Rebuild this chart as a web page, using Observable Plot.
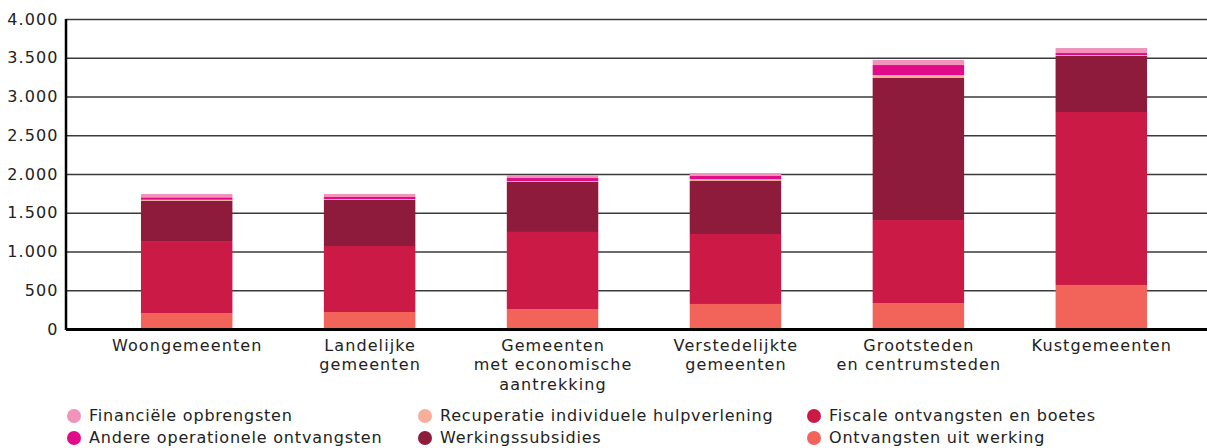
<!DOCTYPE html>
<html>
<head>
<meta charset="utf-8">
<script src="https://cdn.jsdelivr.net/npm/d3@7"></script>
<script src="https://cdn.jsdelivr.net/npm/@observablehq/plot@0.6"></script>
<style>
  html, body { margin: 0; padding: 0; background: #fff; }
  body { width: 1207px; height: 448px; position: relative; overflow: hidden; font-family: "DejaVu Sans", sans-serif; color: #222; }
  #chart { position: absolute; left: 0; top: 0; }
  .legend { position: absolute; left: 0; top: 0; width: 1207px; }
  .item { position: absolute; display: flex; align-items: center; font-size: 16px; letter-spacing: 0.8px; white-space: nowrap; }
  .sw { width: 14px; height: 14px; border-radius: 50%; margin-right: 8px; flex: none; }
</style>
</head>
<body>
<div id="chart"></div>
<div class="legend" id="legend"></div>
<script>
const categories = [
  "Woongemeenten",
  "Landelijke\ngemeenten",
  "Gemeenten\nmet economische\naantrekking",
  "Verstedelijkte\ngemeenten",
  "Grootsteden\nen centrumsteden",
  "Kustgemeenten"
];
// stacked bottom -> top
const ontvangstenUitWerking   = [206, 219, 258, 323, 335, 568];
const fiscaleOntvangsten      = [929, 852, 994, 903, 1071, 2232];
const werkingssubsidies       = [520, 594, 645, 684, 1833, 723];
const recuperatie             = [13, 12, 13, 25, 38, 12];
const andereOperationele      = [31, 26, 38, 39, 129, 26];
const financieleOpbrengsten   = [43, 39, 39, 39, 65, 65];
const yTicks = [0, 500, 1000, 1500, 2000, 2500, 3000, 3500, 4000];

const seriesNames = [
  "Ontvangsten uit werking",
  "Fiscale ontvangsten en boetes",
  "Werkingssubsidies",
  "Recuperatie individuele hulpverlening",
  "Andere operationele ontvangsten",
  "Financiële opbrengsten"
];
const seriesValues = [ontvangstenUitWerking, fiscaleOntvangsten, werkingssubsidies, recuperatie, andereOperationele, financieleOpbrengsten];
const seriesColors = ["#F2645A", "#CC1A47", "#8E1A3C", "#F7AE9B", "#E10A88", "#F293BB"];

const data = [];
seriesNames.forEach((s, si) => categories.forEach((c, ci) => data.push({cat: c, serie: s, value: seriesValues[si][ci]})));

const fmt = d => d3.format(",")(d).replace(/,/g, ".");

const chart = Plot.plot({
  width: 1207,
  height: 396,
  marginLeft: 66,
  marginRight: 0,
  marginTop: 19,
  marginBottom: 67,
  style: {fontFamily: "DejaVu Sans, sans-serif", fontSize: "16px", color: "#222", background: "#fff", letterSpacing: "1.1px"},
  x: {domain: categories, range: [49.5, 1238.5], padding: 0.5, round: false, label: null},
  y: {domain: [0, 4000], label: null},
  color: {domain: seriesNames, range: seriesColors},
  marks: [
    Plot.ruleY(yTicks, {stroke: "#3a3a3a", strokeWidth: 1.3}),
    Plot.barY(data, {x: "cat", y: "value", fill: "serie", order: seriesNames}),
    Plot.axisY({ticks: yTicks, tickFormat: fmt, tickSize: 0, tickPadding: 8, fontSize: 16, fill: "#222", ariaLabel: "y-axis tick label"}),
    Plot.axisX({tickSize: 0, tickPadding: 8, fontSize: 16, fill: "#222", lineHeight: 1.2}),
    Plot.ruleY([0], {stroke: "#000", strokeWidth: 3})
  ]
});
document.getElementById("chart").appendChild(chart);

// slightly tighter y tick labels
d3.select(chart).selectAll("g[aria-label='y-axis tick label']").style("letter-spacing", "0.5px");

// y-axis line on left frame edge
d3.select(chart).append("line").attr("x1", 66).attr("x2", 66).attr("y1", 19).attr("y2", 330)
  .attr("stroke", "#000").attr("stroke-width", 2.5);

// legend (column-major order)
const legendOrder = [
  {name: "Financiële opbrengsten", col: 0, row: 0},
  {name: "Andere operationele ontvangsten", col: 0, row: 1},
  {name: "Recuperatie individuele hulpverlening", col: 1, row: 0},
  {name: "Werkingssubsidies", col: 1, row: 1},
  {name: "Fiscale ontvangsten en boetes", col: 2, row: 0},
  {name: "Ontvangsten uit werking", col: 2, row: 1}
];
const colX = [67, 418, 807];
const rowY = [406, 428];
const leg = document.getElementById("legend");
legendOrder.forEach(d => {
  const el = document.createElement("div");
  el.className = "item";
  el.style.left = colX[d.col] + "px";
  el.style.top = rowY[d.row] + "px";
  const sw = document.createElement("span");
  sw.className = "sw";
  sw.style.background = seriesColors[seriesNames.indexOf(d.name)];
  el.appendChild(sw);
  el.appendChild(document.createTextNode(d.name));
  leg.appendChild(el);
});
</script>
</body>
</html>
